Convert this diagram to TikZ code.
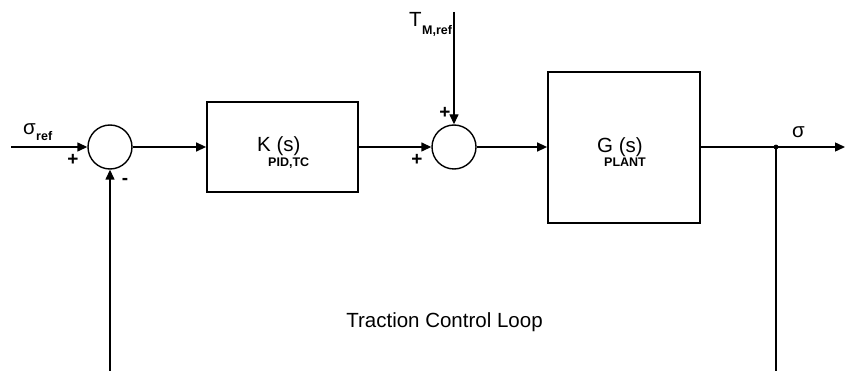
\documentclass[tikz,border=0pt]{standalone}
\usepackage{fontspec}
\setmainfont{Liberation Sans}
\usetikzlibrary{arrows.meta}
\begin{document}
\begin{tikzpicture}[x=1pt,y=-1pt,
  sumnode/.style={draw,circle,line width=1.4pt,minimum size=44pt,inner sep=0pt},
  blk/.style={draw,rectangle,line width=1.8pt,inner sep=0pt},
  wire/.style={line width=1.4pt},
  arr/.style={wire,-{Triangle[length=10pt,width=9pt]}},
  big/.style={inner sep=0pt,font=\fontsize{20.5}{24}\selectfont},
  small/.style={inner sep=0pt,font=\bfseries\fontsize{12.5}{14}\selectfont},
  sign/.style={inner sep=0pt,font=\bfseries\fontsize{19}{20}\selectfont}]
\useasboundingbox (0,0) rectangle (845,371);
\node[sumnode] (s1) at (110,147) {};
\node[blk,minimum width=151pt,minimum height=90pt] (K) at (282.5,147) {};
\node[sumnode] (s2) at (454,147) {};
\node[blk,minimum width=152pt,minimum height=151pt] (G) at (624,147.5) {};
\coordinate (in) at (11,147);
\coordinate (tin) at (454,12);
\coordinate (out) at (845,147);
\coordinate (j) at (776,147);
\coordinate (fbr) at (776,371);
\coordinate (fbl) at (110,371);
% connectors
\draw[arr] (in) -- (s1.west);
\draw[arr] (s1.east) -- (K.west);
\draw[arr] (K.east) -- (s2.west);
\draw[arr] (tin) -- (s2.north);
\draw[arr] (s2.east) -- (G.west |- s2.east);
\draw[arr] (G.east |- j) -- (out);
\draw[wire] (j) -- (fbr);
\draw[arr] (fbl) -- (s1.south);
\fill (j) circle (2.4pt);
% labels
\node[big,anchor=base west] (Kt) at (257,152) {K (s)};
\node[small,anchor=base west] (Ks) at (268,167) {PID,TC};
\node[big,anchor=base west] (Gt) at (597,153) {G (s)};
\node[small,anchor=base west] (Gs) at (604,167) {PLANT};
\node[big,anchor=base west] (sr) at (23,135) {σ};
\node[small,anchor=base west] (srs) at (36,141) {ref};
\node[big,anchor=base west] (tm) at (409,27) {T};
\node[small,anchor=base west] (tms) at (422,35) {M,ref};
\node[big,anchor=base west] (so) at (792,138) {σ};
\node[sign] (p1) at (73,160) {+};
\node[sign] (m1) at (125,181) {-};
\node[sign] (p2) at (445,113) {+};
\node[sign] (p3) at (417,160) {+};
\node[big,anchor=base] (title) at (444.5,327) {Traction Control Loop};
\end{tikzpicture}
\end{document}
